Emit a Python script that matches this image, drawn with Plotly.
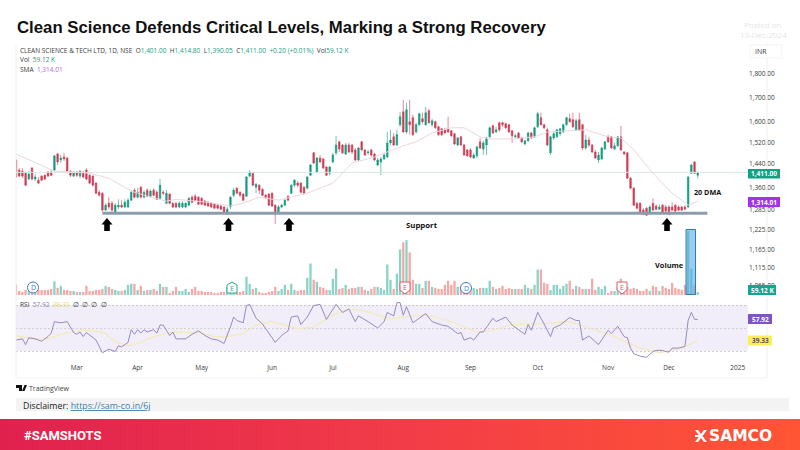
import plotly.graph_objects as go

# daily OHLC
opens = [
    1455, 1419, 1415, 1408, 1388, 1426, 1388, 1384, 1398, 1401,
    1412, 1412, 1419, 1477, 1455, 1466, 1462, 1415, 1398, 1412,
    1398, 1412, 1419, 1401, 1398, 1374, 1343, 1340, 1285, 1307,
    1307, 1279, 1295, 1301, 1295, 1295, 1317, 1350, 1327, 1360,
    1327, 1350, 1330, 1350, 1343, 1323, 1343, 1307, 1337, 1307,
    1307, 1295, 1295, 1295, 1301, 1327, 1330, 1327, 1323, 1314,
    1310, 1307, 1304, 1301, 1298, 1295, 1272, 1295, 1333, 1357,
    1343, 1337, 1330, 1398, 1408, 1360, 1367, 1353, 1333, 1337,
    1340, 1301, 1275, 1295, 1301, 1330, 1340, 1367, 1374, 1374,
    1360, 1357, 1401, 1481, 1412, 1462, 1459, 1430, 1408, 1448,
    1481, 1522, 1510, 1477, 1510, 1510, 1492, 1455, 1522, 1492,
    1481, 1492, 1477, 1437, 1448, 1459, 1466, 1518, 1541, 1510,
    1588, 1640, 1560, 1600, 1616, 1560, 1588, 1612, 1588, 1644,
    1588, 1600, 1580, 1572, 1568, 1572, 1564, 1553, 1510, 1541,
    1510, 1492, 1492, 1462, 1470, 1522, 1495, 1510, 1541, 1584,
    1560, 1596, 1596, 1592, 1588, 1564, 1541, 1556, 1537, 1514,
    1526, 1556, 1541, 1580, 1616, 1588, 1568, 1481, 1537, 1541,
    1553, 1560, 1588, 1612, 1608, 1568, 1608, 1588, 1499, 1529,
    1510, 1484, 1455, 1459, 1495, 1541, 1541, 1495, 1507, 1541,
    1484, 1481, 1391, 1357, 1307, 1307, 1285, 1291, 1275, 1307,
    1298, 1288, 1301, 1295, 1295, 1295, 1301, 1295, 1295, 1295,
    1295, 1408, 1448, 1401,
]
highs = [
    1459, 1426, 1426, 1412, 1415, 1430, 1405, 1395, 1401, 1405,
    1415, 1419, 1473, 1481, 1473, 1481, 1466, 1419, 1415, 1415,
    1419, 1415, 1426, 1405, 1401, 1377, 1350, 1343, 1307, 1327,
    1314, 1307, 1320, 1317, 1320, 1323, 1350, 1357, 1357, 1364,
    1350, 1357, 1353, 1357, 1350, 1388, 1350, 1350, 1340, 1310,
    1310, 1314, 1314, 1310, 1327, 1333, 1337, 1330, 1327, 1317,
    1314, 1310, 1307, 1304, 1301, 1298, 1295, 1330, 1357, 1360,
    1347, 1340, 1398, 1419, 1412, 1374, 1370, 1357, 1337, 1340,
    1343, 1304, 1301, 1304, 1320, 1333, 1370, 1388, 1381, 1377,
    1364, 1398, 1441, 1484, 1466, 1473, 1462, 1433, 1433, 1481,
    1545, 1526, 1514, 1518, 1518, 1514, 1499, 1503, 1526, 1495,
    1492, 1495, 1481, 1462, 1466, 1481, 1560, 1568, 1556, 1568,
    1640, 1689, 1677, 1689, 1628, 1596, 1636, 1636, 1660, 1652,
    1612, 1604, 1584, 1576, 1576, 1620, 1568, 1556, 1541, 1545,
    1514, 1495, 1499, 1481, 1507, 1537, 1526, 1541, 1580, 1588,
    1580, 1600, 1600, 1596, 1592, 1568, 1553, 1560, 1541, 1529,
    1560, 1560, 1580, 1640, 1636, 1592, 1576, 1545, 1560, 1572,
    1576, 1592, 1620, 1632, 1636, 1612, 1636, 1592, 1549, 1541,
    1514, 1492, 1484, 1503, 1526, 1549, 1545, 1518, 1545, 1584,
    1488, 1484, 1395, 1360, 1310, 1310, 1291, 1295, 1301, 1323,
    1304, 1304, 1304, 1301, 1301, 1310, 1304, 1301, 1298, 1301,
    1398, 1441, 1451, 1414.8,
]
lows = [
    1391, 1395, 1391, 1364, 1384, 1384, 1381, 1370, 1381, 1384,
    1395, 1398, 1415, 1437, 1444, 1451, 1408, 1395, 1395, 1395,
    1391, 1391, 1384, 1370, 1364, 1337, 1330, 1279, 1282, 1288,
    1279, 1275, 1288, 1291, 1291, 1291, 1314, 1323, 1323, 1323,
    1323, 1327, 1327, 1330, 1317, 1320, 1333, 1304, 1304, 1291,
    1291, 1291, 1291, 1291, 1298, 1307, 1314, 1301, 1301, 1298,
    1295, 1291, 1289, 1288, 1285, 1275, 1270, 1288, 1327, 1337,
    1327, 1314, 1327, 1395, 1364, 1340, 1337, 1330, 1320, 1298,
    1295, 1242, 1272, 1291, 1298, 1314, 1337, 1360, 1360, 1340,
    1337, 1353, 1398, 1441, 1408, 1444, 1423, 1398, 1401, 1444,
    1473, 1484, 1477, 1473, 1481, 1477, 1451, 1451, 1488, 1470,
    1473, 1466, 1451, 1433, 1401, 1455, 1462, 1510, 1507, 1507,
    1580, 1556, 1553, 1549, 1545, 1553, 1584, 1592, 1584, 1592,
    1580, 1572, 1545, 1545, 1553, 1556, 1541, 1510, 1507, 1507,
    1470, 1466, 1462, 1459, 1462, 1495, 1473, 1473, 1537, 1553,
    1556, 1560, 1580, 1572, 1556, 1518, 1537, 1533, 1518, 1510,
    1522, 1533, 1537, 1576, 1584, 1572, 1507, 1473, 1529, 1537,
    1545, 1556, 1584, 1596, 1576, 1564, 1564, 1492, 1492, 1503,
    1481, 1459, 1444, 1455, 1492, 1518, 1495, 1492, 1503, 1488,
    1473, 1388, 1353, 1298, 1288, 1272, 1269, 1266, 1272, 1282,
    1285, 1285, 1275, 1279, 1269, 1282, 1279, 1282, 1282, 1285,
    1291, 1405, 1405, 1390.05,
]
closes = [
    1395, 1398, 1398, 1367, 1405, 1388, 1395, 1374, 1384, 1388,
    1398, 1401, 1470, 1448, 1462, 1459, 1415, 1401, 1412, 1401,
    1415, 1395, 1388, 1374, 1367, 1340, 1333, 1285, 1301, 1295,
    1285, 1301, 1301, 1295, 1310, 1317, 1343, 1327, 1343, 1327,
    1343, 1330, 1347, 1333, 1320, 1367, 1340, 1340, 1307, 1295,
    1295, 1307, 1307, 1307, 1323, 1310, 1317, 1304, 1304, 1301,
    1298, 1295, 1291, 1291, 1288, 1279, 1288, 1327, 1350, 1340,
    1333, 1317, 1395, 1412, 1367, 1370, 1350, 1333, 1327, 1301,
    1298, 1272, 1295, 1301, 1317, 1317, 1367, 1384, 1367, 1343,
    1340, 1395, 1437, 1444, 1462, 1448, 1426, 1401, 1430, 1473,
    1510, 1495, 1481, 1510, 1484, 1484, 1455, 1499, 1492, 1473,
    1484, 1473, 1455, 1455, 1459, 1473, 1518, 1529, 1510, 1549,
    1620, 1560, 1648, 1588, 1549, 1588, 1632, 1600, 1636, 1596,
    1604, 1576, 1549, 1549, 1556, 1560, 1545, 1514, 1537, 1510,
    1473, 1470, 1466, 1473, 1503, 1499, 1518, 1537, 1576, 1556,
    1568, 1568, 1588, 1576, 1560, 1545, 1545, 1537, 1522, 1526,
    1556, 1537, 1576, 1632, 1588, 1576, 1510, 1541, 1553, 1568,
    1572, 1588, 1616, 1600, 1580, 1604, 1568, 1499, 1529, 1510,
    1484, 1462, 1473, 1499, 1522, 1522, 1499, 1507, 1541, 1492,
    1477, 1391, 1357, 1301, 1291, 1275, 1272, 1269, 1295, 1285,
    1288, 1295, 1279, 1282, 1272, 1285, 1282, 1285, 1285, 1288,
    1395, 1437, 1408, 1411,
]
volumes_k = [
    200, 80, 60, 100, 80, 120, 80, 100, 100, 100,
    100, 120, 270, 140, 180, 100, 100, 80, 80, 60,
    60, 60, 180, 80, 80, 100, 100, 120, 180, 160,
    120, 100, 80, 80, 100, 200, 220, 220, 100, 180,
    80, 100, 100, 120, 80, 220, 160, 160, 40, 80,
    160, 80, 80, 120, 60, 120, 160, 80, 80, 60,
    60, 60, 40, 40, 60, 60, 160, 120, 60, 60,
    60, 80, 360, 220, 120, 140, 60, 40, 40, 60,
    80, 160, 80, 120, 200, 100, 220, 100, 80, 100,
    100, 340, 620, 300, 260, 160, 140, 100, 100, 320,
    520, 120, 140, 200, 120, 140, 140, 160, 160, 100,
    80, 120, 160, 160, 140, 100, 600, 300, 120, 420,
    900, 1040, 1080, 840, 300, 220, 220, 140, 280, 280,
    160, 140, 120, 120, 200, 280, 200, 280, 160, 160,
    120, 120, 120, 140, 120, 140, 140, 140, 280, 160,
    120, 140, 180, 120, 140, 120, 120, 120, 120, 200,
    140, 120, 200, 500, 500, 240, 220, 100, 200, 200,
    120, 180, 220, 280, 120, 180, 160, 120, 120, 120,
    320, 100, 160, 120, 180, 40, 80, 80, 160, 320,
    100, 160, 120, 140, 120, 80, 80, 120, 80, 180,
    160, 80, 180, 140, 120, 240, 140, 120, 100, 200,
    1260, 520, 200, 59.12,
]

sma_idx = [0, 12, 19, 23, 29, 36, 42, 47, 50, 60, 67, 71, 76, 82, 91, 99, 105, 112, 120,
           125, 130, 136, 140, 145, 148, 155, 162, 166, 172, 178, 185, 189, 193, 199, 205, 210, 213]
sma_vals = [1477, 1415, 1412, 1408, 1391, 1347, 1327, 1314, 1320, 1310, 1298, 1307, 1327, 1317, 1340, 1374, 1444, 1466, 1503,
            1522, 1556, 1576, 1576, 1541, 1533, 1533, 1541, 1560, 1564, 1568, 1541, 1537, 1492, 1408, 1340, 1301, 1314.01]

rsi_idx = [0, 2, 3, 4, 6, 8, 10, 11, 12, 14, 16, 18, 19, 20, 21, 22, 25, 26, 27, 29, 31, 32, 33, 35, 36, 37, 38, 39, 40, 41,
           43, 44, 45, 46, 48, 49, 50, 51, 53, 55, 57, 59, 61, 63, 65, 67, 68, 69, 71, 72, 73, 75, 77, 79, 81, 83, 85, 86, 88, 89,
           91, 93, 95, 97, 100, 102, 104, 106, 107, 110, 113, 115, 116, 118, 119, 120, 121, 122, 124, 126, 128, 130, 133, 135,
           138, 139, 140, 142, 143, 145, 146, 149, 150, 153, 155, 159, 160, 161, 163, 165, 167, 168, 170, 173, 175, 176, 177, 179,
           182, 185, 186, 188, 190, 191, 192, 193, 195, 197, 199, 200, 201, 202, 203, 204, 205, 207, 209, 210, 211, 212, 213]
rsi_vals = [40, 41, 36, 42, 41, 39, 43, 46, 56, 55, 56, 46.5, 45, 47, 43, 46.5, 40, 34, 29, 32, 30, 35, 34, 38, 49, 45, 49, 46, 49, 47,
            49, 46, 53, 53, 44, 47, 41, 41, 41, 45, 48, 44, 41, 40, 37, 51.5, 60, 57, 55, 70, 71, 59, 54, 46, 38, 44, 48, 60, 61, 53.5,
            60, 70, 71, 58, 71, 64, 67, 56, 61, 56, 50.5, 56, 64, 61, 72.5, 72.5, 61.5, 69, 55, 59, 63, 56, 53, 52,
            45.6, 46.5, 40, 42, 40, 47, 47, 59, 56, 60, 53, 45, 53.5, 48.5, 64, 54, 43, 50.6, 53, 59.6, 57, 57, 40, 43.6,
            36, 48.5, 45.6, 52, 43, 42, 33, 28, 26, 25, 30, 31, 31, 31, 30, 29.5, 33, 33, 34.5, 57, 64, 58, 57.92]

rsi_ma_idx = [0, 6, 10, 13, 17, 21, 25, 28, 31, 35, 38, 43, 49, 53, 57, 62, 66, 71, 75, 80, 84, 88, 93, 99, 104, 108, 113,
              117, 121, 128, 135, 144, 149, 155, 164, 172, 176, 187, 195, 201, 207, 213]
rsi_ma_vals = [43.6, 41, 41, 44, 47, 48.5, 47.7, 45.6, 38.4, 35, 37, 43, 47, 46.5, 46.5, 43, 43, 45.6, 53, 56, 53, 50, 51.5, 61.6, 67, 66, 61.6,
               59, 60, 62, 57, 47, 48.5, 53.5, 54, 56, 53.5, 43, 33, 29, 32, 39.33]

support_idx = [27, 216]
support_level = [1275, 1275]
last_idx = [0, 228.7]
last_level = [1411, 1411]
band_idx = [0, 228.7]

price_ticks = [1800, 1700, 1600, 1520, 1440, 1360, 1285, 1225, 1165, 1115, 1065]
month_idx = [19, 38, 58, 80, 99, 121, 142, 163, 185, 204, 225.5]
month_labels = ["Mar", "Apr", "May", "Jun", "Jul", "Aug", "Sep", "Oct", "Nov", "Dec", "2025"]

W, H = 800, 450
GREEN = "#169c80"
RED = "#cf3d55"
FONT = "Open Sans"
bars = list(range(len(opens)))
vol_colors = ["#8ad3c6" if c >= o else "#f4a9a8" for o, c in zip(opens, closes)]


# page pixels to paper fractions
def px(x):
    return x / W


def py(y):
    return 1 - y / H


def label(x, y, text, size=6.5, color="#3a3a3a", anchor="left", family=FONT, **kw):
    return dict(x=px(x), y=py(y), xref="paper", yref="paper", text=text, showarrow=False,
                xanchor=anchor, yanchor="middle", align=anchor, borderpad=0, borderwidth=0,
                font=dict(size=size, color=color, family=family), **kw)


def rect(x0, y0, x1, y1, fill, line=None, width=1, layer="above"):
    return dict(type="rect", xref="paper", yref="paper", x0=px(x0), x1=px(x1), y0=py(y0), y1=py(y1),
                fillcolor=fill, line=dict(color=line or fill, width=width if line else 0), layer=layer)


def poly(points, fill, line=None, width=1):
    d = "M" + " L".join(f"{px(a):.5f},{py(b):.5f}" for a, b in points) + " Z"
    return dict(type="path", xref="paper", yref="paper", path=d, fillcolor=fill,
                line=dict(color=line or fill, width=width if line else 0), layer="above")


def up_arrow(cx, top):
    return poly([(cx, top), (cx + 5.5, top + 6.5), (cx + 2.8, top + 6.5), (cx + 2.8, top + 13),
                 (cx - 2.8, top + 13), (cx - 2.8, top + 6.5), (cx - 5.5, top + 6.5)], "#000000")


def badge(cx, color, down):
    if down:
        pts = [(cx - 5, 282), (cx + 5, 282), (cx + 5, 290), (cx, 294), (cx - 5, 290)]
    else:
        pts = [(cx, 282), (cx + 5, 285), (cx + 5, 293), (cx - 5, 293), (cx - 5, 285)]
    return poly(pts, "#ffffff", color, 1)


def circle_badge(cx, cy):
    return dict(type="circle", xref="paper", yref="paper", x0=px(cx - 5.5), x1=px(cx + 5.5),
                y0=py(cy + 5.5), y1=py(cy - 5.5), fillcolor="#ffffff",
                line=dict(color="#3f78c4", width=1), layer="above")


fig = go.Figure()

fig.add_trace(go.Heatmap(z=[[0, 1]], x=[0, 1], y=[0], xaxis="x2", yaxis="y4", zsmooth="best", showscale=False,
                         colorscale=[[0, "#e0214f"], [0.5, "#f23c48"], [1, "#ff5534"]], hoverinfo="skip"))

fig.add_trace(go.Bar(x=bars, y=volumes_k, yaxis="y2", marker=dict(color=vol_colors, line_width=0),
                     width=0.72, hoverinfo="skip"))

fig.add_trace(go.Scatter(x=last_idx, y=last_level, mode="lines", line=dict(color="#d9e6e3", width=1), hoverinfo="skip"))
fig.add_trace(go.Scatter(x=sma_idx, y=sma_vals, mode="lines", line=dict(color="#ecd6df", width=1), hoverinfo="skip"))

fig.add_trace(go.Candlestick(x=bars, open=opens, high=highs, low=lows, close=closes, whiskerwidth=0,
                             increasing=dict(line=dict(color=GREEN, width=0.6), fillcolor=GREEN),
                             decreasing=dict(line=dict(color=RED, width=0.6), fillcolor=RED),
                             hoverinfo="skip"))

fig.add_trace(go.Scatter(x=support_idx, y=support_level, mode="lines", line=dict(color="#8c9cab", width=3), hoverinfo="skip"))

# RSI pane
for level, color, width in [(70, "#b9b9b9", 0.7), (50, "#c4c4c4", 0.7), (30, "#b9b9b9", 0.7)]:
    fig.add_trace(go.Scatter(x=band_idx, y=[level, level], yaxis="y3", mode="lines",
                             line=dict(color=color, width=width, dash="2px,2px"), hoverinfo="skip"))
fig.add_trace(go.Scatter(x=rsi_ma_idx, y=rsi_ma_vals, yaxis="y3", mode="lines",
                         line=dict(color="#f3eab8", width=1.2), hoverinfo="skip"))
fig.add_trace(go.Scatter(x=rsi_idx, y=rsi_vals, yaxis="y3", mode="lines",
                         line=dict(color="#8d7fb5", width=0.9), hoverinfo="skip"))

shapes = [
    rect(16, 305, 748, 351, "#f1edf9", layer="below"),
    dict(type="line", xref="paper", yref="paper", x0=px(16), x1=px(16), y0=py(45), y1=py(378),
         line=dict(color="#eeeeee", width=1)),
    dict(type="line", xref="paper", yref="paper", x0=px(767), x1=px(767), y0=py(43), y1=py(378),
         line=dict(color="#f0f0f0", width=1)),
    dict(type="line", xref="paper", yref="paper", x0=px(16), x1=px(767), y0=py(378), y1=py(378),
         line=dict(color="#f2f2f2", width=1)),
    rect(750, 45, 782, 58, "#ffffff", "#f3f3f3"),
    up_arrow(107, 218), up_arrow(228.5, 218), up_arrow(289, 218), up_arrow(667, 218),
    rect(686, 229.5, 695.5, 294.5, "rgba(84,170,232,0.6)", "#2f7ea8", 1),
    circle_badge(33, 287.5), circle_badge(466, 288),
    badge(232, "#2fa58f", False), badge(405, "#dd5c66", True), badge(622, "#dd5c66", True),
    rect(748, 169, 780, 178.5, "#13a184"),
    rect(748, 197, 780, 207, "#a233ea"),
    rect(748, 285, 776, 295, "#18a58f"),
    rect(748, 314, 772, 324, "#7d56c4"),
    rect(748, 335.5, 772, 345.5, "#fdee55"),
    rect(16, 398, 789, 411, "#f3f3f3", layer="below"),
    # TradingView mark
    poly([(16, 385), (22, 385), (22, 391), (19, 391), (19, 388), (16, 388)], "#111111"),
    poly([(24.5, 385), (27, 385), (24.5, 391), (22, 391)], "#111111"),
    # Samco mark
    poly([(695, 430), (698, 430), (707, 442), (704, 442)], "#ffffff"),
    poly([(704, 430), (707, 430), (698, 442), (695, 442)], "#ffffff"),
    rect(695, 435, 700, 437, "#ffffff"),
]

header = (
    "CLEAN SCIENCE &amp; TECH LTD, 1D, NSE  "
    f"O<span style='color:{GREEN}'>1,401.00</span>  H<span style='color:{GREEN}'>1,414.80</span>  "
    f"L<span style='color:{GREEN}'>1,390.05</span>  C<span style='color:{GREEN}'>1,411.00</span>  "
    f"<span style='color:{GREEN}'>+0.20 (+0.01%)</span>  Vol<span style='color:{GREEN}'>59.12 K</span>"
)
annotations = [
    label(17, 27, "<b>Clean Science Defends Critical Levels, Marking a Strong Recovery</b>", size=16.75, color="#111111", family="Liberation Sans"),
    label(763, 24, "Posted on", size=8, color="#e6e6e6", anchor="center"),
    label(763, 34.5, "13-Dec-2024", size=8, color="#e6e6e6", anchor="center"),
    label(20, 50.5, header),
    label(20, 60, f"Vol  <span style='color:{GREEN}'>59.12 K</span>"),
    label(20, 69.5, "SMA  <span style='color:#b368d6'>1,314.01</span>"),
    label(755, 51.5, "INR", size=7),
    label(764, 173.8, "<b>1,411.00</b>", color="#ffffff", anchor="center"),
    label(764, 202, "<b>1,314.01</b>", color="#ffffff", anchor="center"),
    label(762, 290, "<b>59.12 K</b>", color="#ffffff", anchor="center"),
    label(760, 319, "<b>57.92</b>", color="#ffffff", anchor="center"),
    label(760, 340.5, "<b>39.33</b>", color="#555555", anchor="center"),
    label(694, 192, "<b>20 DMA</b>", size=7.2, color="#111111"),
    label(406, 225, "<b>Support</b>", size=7.8, color="#111111"),
    label(655, 265, "<b>Volume</b>", size=7.4, color="#111111"),
    label(33, 287.5, "D", size=7, color="#3f78c4", anchor="center"),
    label(466, 288, "D", size=7, color="#3f78c4", anchor="center"),
    label(232, 288, "E", size=7, color="#2fa58f", anchor="center"),
    label(405, 287, "E", size=7, color="#dd5c66", anchor="center"),
    label(622, 287, "E", size=7, color="#dd5c66", anchor="center"),
    label(20, 304, "RSI  <span style='color:#8d7fb5'>57.92</span>  <span style='color:#e8dc6a'>39.33</span>  ∅  ∅  ∅  ∅"),
    label(29, 388.5, "TradingView", size=7, color="#444444"),
    label(23, 406, "Disclaimer: <span style='color:#3b7ea8'><u>https://sam-co.in/6j</u></span>", size=8.8, color="#222222"),
    label(24, 435, "<b>#SAMSHOTS</b>", size=13, color="#ffffff", family="Roboto"),
    label(709, 436, "<b>SAMCO</b>", size=15.5, color="#ffffff", family="DejaVu Sans"),
]

fig.update_layout(
    width=W, height=H,
    autosize=False,
    margin=dict(l=0, r=0, t=0, b=0, autoexpand=False),
    paper_bgcolor="#ffffff",
    plot_bgcolor="rgba(0,0,0,0)",
    showlegend=False,
    bargap=0.25,
    shapes=shapes,
    annotations=annotations,
    xaxis=dict(domain=[px(16), px(748)], range=[0, 228.7], anchor="y3", rangeslider=dict(visible=False),
               showgrid=False, zeroline=False, showline=False, ticks="", tickmode="array",
               tickvals=month_idx, ticktext=month_labels,
               tickfont=dict(size=6.5, color="#3a3a3a", family=FONT)),
    xaxis2=dict(domain=[0, 1], range=[0, 1], visible=False, anchor="y4"),
    yaxis=dict(domain=[py(295), py(45)], type="log", range=[3.0175, 3.2867], side="right", anchor="x",
               showgrid=False, zeroline=False, showline=False, ticks="", tickmode="array",
               tickvals=price_ticks, tickformat=",.2f",
               tickfont=dict(size=6.5, color="#3a3a3a", family=FONT)),
    yaxis2=dict(domain=[py(295), py(45)], range=[0, 4925], overlaying="y", visible=False),
    yaxis3=dict(domain=[py(362), py(296)], range=[20.9, 78.3], anchor="x", side="right",
                showgrid=False, zeroline=False, showline=False, showticklabels=False, ticks=""),
    yaxis4=dict(domain=[0, py(419)], range=[-0.5, 0.5], visible=False, anchor="x2"),
)

# the page's default body margin would push the 800x450 figure off by 8px
fig.write_html("out.html", config={"displayModeBar": False}, post_script="document.body.style.margin='0';")
